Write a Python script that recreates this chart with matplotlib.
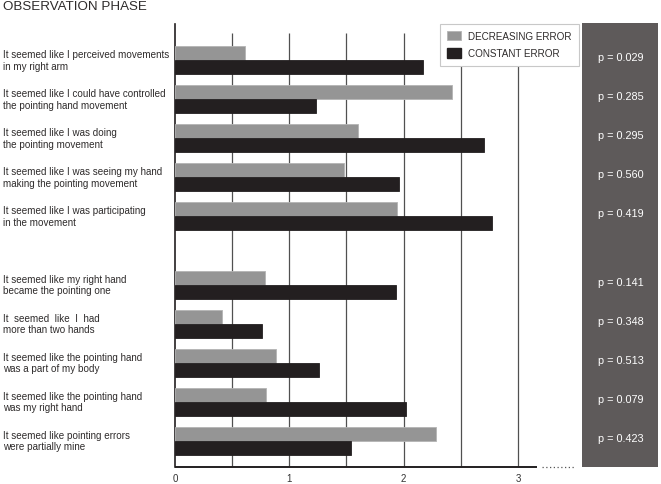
import matplotlib
matplotlib.use("Agg")
import matplotlib.pyplot as plt
from matplotlib.patches import Rectangle, Patch
import numpy as np

plt.rcParams['font.family'] = ['Liberation Sans', 'DejaVu Sans']

title = "OBSERVATION PHASE"
labels = [
    "It seemed like I perceived movements\nin my right arm",
    "It seemed like I could have controlled\nthe pointing hand movement",
    "It seemed like I was doing\nthe pointing movement",
    "It seemed like I was seeing my hand\nmaking the pointing movement",
    "It seemed like I was participating\nin the movement",
    "It seemed like my right hand\nbecame the pointing one",
    "It  seemed  like  I  had\nmore than two hands",
    "It seemed like the pointing hand\nwas a part of my body",
    "It seemed like the pointing hand\nwas my right hand",
    "It seemed like pointing errors\nwere partially mine",
]
decreasing = [0.61, 2.42, 1.60, 1.48, 1.94, 0.79, 0.41, 0.88, 0.80, 2.28]
constant = [2.17, 1.23, 2.70, 1.96, 2.77, 1.93, 0.76, 1.26, 2.02, 1.54]
pvalues = ["p = 0.029", "p = 0.285", "p = 0.295", "p = 0.560", "p = 0.419",
           "p = 0.141", "p = 0.348", "p = 0.513", "p = 0.079", "p = 0.423"]
series_names = ["DECREASING ERROR", "CONSTANT ERROR"]
xticks = [0, 1, 2, 3]

W, H = 661, 485
fig = plt.figure(figsize=(W / 100, H / 100), dpi=100)

# layout in pixels
px_unit = 114.3
ax_left, ax_top, ax_bottom = 175, 25, 468
xmax = 3.5
ax = fig.add_axes([ax_left / W, (H - ax_bottom) / H,
                   xmax * px_unit / W, (ax_bottom - ax_top) / H])

# row positions: two groups with a gap
n = len(labels)
ypos = np.array([i if i < 5 else i + 0.76 for i in range(n)], dtype=float)
row_px = 39.0
y0px = 61.0
ytop = (ax_top - y0px) / row_px
ybot = (ax_bottom - y0px) / row_px
ax.set_ylim(ybot, ytop)
ax.set_xlim(0, xmax)

bh = 14 / row_px
gray = '#959595'
black = '#231f20'
ax.barh(ypos - bh / 2, decreasing, height=bh, color=gray, edgecolor='#b4b4b4',
        linewidth=0.6, zorder=3, label=series_names[0])
ax.barh(ypos + bh / 2, constant, height=bh, color=black, edgecolor=black,
        linewidth=0.6, zorder=3, label=series_names[1])

# grid lines every 0.5 from 0.5 to 3
grid_top = (34 - y0px) / row_px
for gx in np.arange(0.5, 3.01, 0.5):
    ax.plot([gx, gx], [ybot, grid_top], color='#505050', lw=0.9, zorder=1,
            solid_capstyle='butt')

for s in ['top', 'right', 'bottom']:
    ax.spines[s].set_visible(False)
ax.spines['left'].set_color('#231f20')
ax.spines['left'].set_linewidth(1.2)
ax.set_yticks([])
ax.set_xticks(xticks)
ax.set_xticklabels([str(t) for t in xticks], fontsize=7, color='#333333')
ax.tick_params(axis='x', length=0, pad=4)

# bottom axis line and dotted continuation
ax.plot([0, 3.165], [ybot, ybot], color='#231f20', lw=1.4, clip_on=False,
        zorder=4, solid_capstyle='butt')
ax.plot([3.21, 3.50], [ybot, ybot], color='#555555', lw=0.9, ls=(0, (1, 2)),
        clip_on=False, zorder=4)

# category labels
for y, lab in zip(ypos, labels):
    ax.text(-ax_left / px_unit + 3 / px_unit, y, lab, ha='left', va='center',
            fontsize=7.15, color='#2e2b2b', linespacing=1.2,
            transform=ax.transData, clip_on=False)

# p-value panel
fig.patches.append(Rectangle((582 / W, (H - 468) / H), 76 / W, 444 / H,
                             transform=fig.transFigure, facecolor='#5e5a5a',
                             edgecolor='none', zorder=0))
for y, p in zip(ypos, pvalues):
    ypx = y0px + y * row_px - 3
    fig.text(620.5 / W, (H - ypx) / H, p, ha='center', va='center',
             fontsize=7.8, color='white')

# title
fig.text(3 / W, (H - 7.5) / H, title, ha='left', va='center', fontsize=9.6,
         color='#2e2b2b')

# legend
handles = [Patch(facecolor=gray, edgecolor='#b4b4b4', linewidth=0.6),
           Patch(facecolor=black, edgecolor=black)]
leg = fig.legend(handles, series_names, loc='upper left',
                 bbox_to_anchor=(440 / W, (H - 24.5) / H),
                 fontsize=7.1, frameon=True, fancybox=False,
                 edgecolor='#c8c8c8', framealpha=1, borderpad=0.75,
                 handlelength=1.4, handleheight=1.1, handletextpad=0.65,
                 labelspacing=0.75, borderaxespad=0)
leg.get_frame().set_linewidth(0.8)
for t in leg.get_texts():
    t.set_color('#2e2b2b')

fig.savefig('out.png', dpi=100)
